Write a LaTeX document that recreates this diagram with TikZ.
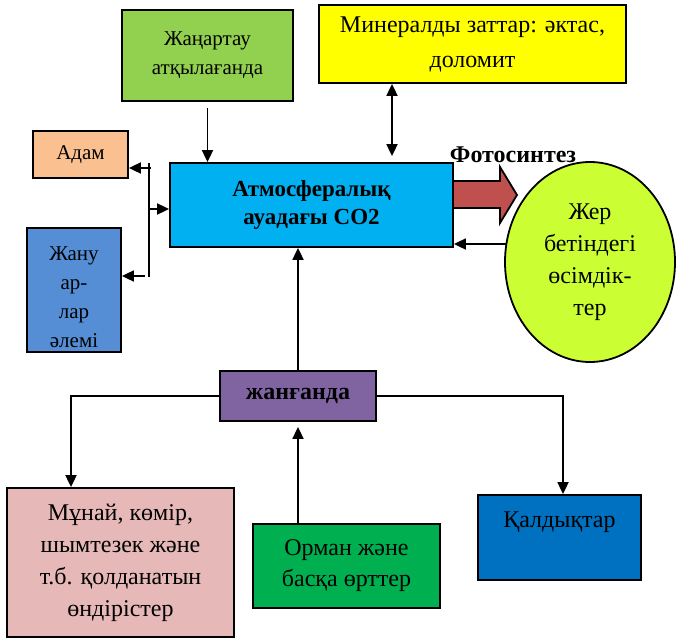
\documentclass[tikz,border=0pt]{standalone}
\usepackage{fontspec}
\setmainfont{Liberation Serif}
\usetikzlibrary{arrows.meta,shapes.geometric}
\definecolor{cZhan}{HTML}{92D050}
\definecolor{cMin}{HTML}{FFFF00}
\definecolor{cAdam}{HTML}{FAC090}
\definecolor{cZhanu}{HTML}{558ED5}
\definecolor{cAtm}{HTML}{00B0F0}
\definecolor{cRed}{HTML}{C0504D}
\definecolor{cPlant}{HTML}{CCFF33}
\definecolor{cJang}{HTML}{8064A2}
\definecolor{cPink}{HTML}{E6B9B8}
\definecolor{cOrman}{HTML}{00B050}
\definecolor{cKald}{HTML}{0070C0}
\newcommand{\smallsz}{\fontsize{21}{29}\selectfont}
\newcommand{\bigsz}{\fontsize{24}{32}\selectfont}
\begin{document}
\begin{tikzpicture}[x=1pt,y=-1pt,
  box/.style={draw, line width=1.8pt, inner sep=0pt, align=center, font=\bigsz},
  lbl/.style={inner sep=0pt, align=center, font=\bigsz},
  conn/.style={line width=1.8pt, -{Triangle[length=12pt,width=11pt]}},
  conn2/.style={line width=1.8pt, {Triangle[length=12pt,width=11pt]}-{Triangle[length=12pt,width=11pt]}},
  plainline/.style={line width=1.8pt}]
\useasboundingbox (0,0) rectangle (677,640);
% boxes
\node[box, fill=cZhan, minimum width=171pt, minimum height=91pt, font=\smallsz] (zhan) at (207.5,55.5) {Жаңартау\\атқылағанда};
\node[box, fill=cMin, minimum width=307pt, minimum height=78pt, font=\fontsize{24}{35}\selectfont] (miner) at (472.5,44) {Минералды заттар: әктас,\\доломит};
\node[box, fill=cAdam, minimum width=95pt, minimum height=47pt, font=\smallsz] (adam) at (80.5,154.5) {Адам};
\node[box, fill=cZhanu, minimum width=94pt, minimum height=124pt] (zhanu) at (74,290) {};
\begin{scope}
\clip (zhanu.south west) rectangle (zhanu.north east);
\node[lbl, font=\smallsz] (zhanut) at (74,297) {Жану\\ар-\\лар\\әлемі};
\end{scope}
\node[box, fill=cAtm, minimum width=283pt, minimum height=84pt, font=\bfseries\fontsize{23}{28}\selectfont] (atm) at (311.5,205) {Атмосфералық\\ауадағы СО2};
\node[box, ellipse, fill=cPlant, minimum width=170pt, minimum height=200pt] (plants) at (590,262) {Жер\\бетіндегі\\өсімдік-\\тер};
\node[box, fill=cJang, minimum width=156pt, minimum height=50pt, font=\bfseries\bigsz] (jang) at (298,396) {жанғанда};
\node[box, fill=cPink, minimum width=227pt, minimum height=149pt] (pink) at (120.5,562.5) {Мұнай, көмір,\\шымтезек және\\т.б. қолданатын\\өндірістер};
\node[box, fill=cOrman, minimum width=187pt, minimum height=84pt, font=\fontsize{24}{31}\selectfont] (orman) at (346.5,566) {Орман және\\басқа өрттер};
\node[box, fill=cKald, minimum width=163pt, minimum height=85pt] (kald) at (559.5,537.5) {};
\node[lbl] (kaldt) at (559.5,522) {Қалдықтар};
% photosynthesis arrow
\node[inner sep=0pt, font=\bfseries\bigsz] (photo) at (513,155) {Фотосинтез};
\draw[line width=1.8pt, fill=cRed] (453,181) -- (500,181) -- (500,167) -- (517,195) -- (500,223) -- (500,208) -- (453,208) -- cycle;
% connectors
\draw[conn] ([yshift=-6pt]zhan.south) -- (atm.north -| zhan.south);
\coordinate (mx) at (392,0);
\draw[conn2, shorten >=6pt] (miner.south -| mx) -- (atm.north -| mx);
\coordinate (bt) at (149,163);
\coordinate (bb) at (149,277);
\draw[plainline] (bt) -- (bb);
\coordinate (ay) at (151,168);
\draw[conn] (ay) -- (ay -| adam.east);
\coordinate (my) at (149,209);
\draw[conn] (my) -- (my -| atm.west);
\coordinate (zy) at (145,276);
\draw[conn] (zy) -- (zy -| zhanu.east);
\coordinate (py) at (506,244);
\draw[conn] (py) -- (py -| atm.east);
\draw[conn] (jang.north) -- (atm.south -| jang.north);
\draw[conn] (orman.north -| jang.south) -- ([yshift=-5pt]jang.south);
\coordinate (lx) at (71,0);
\draw[conn] (jang.west) -| (pink.north -| lx);
\coordinate (rx) at (563,0);
\draw[conn] (jang.east) -| (kald.north -| rx);
\end{tikzpicture}
\end{document}
